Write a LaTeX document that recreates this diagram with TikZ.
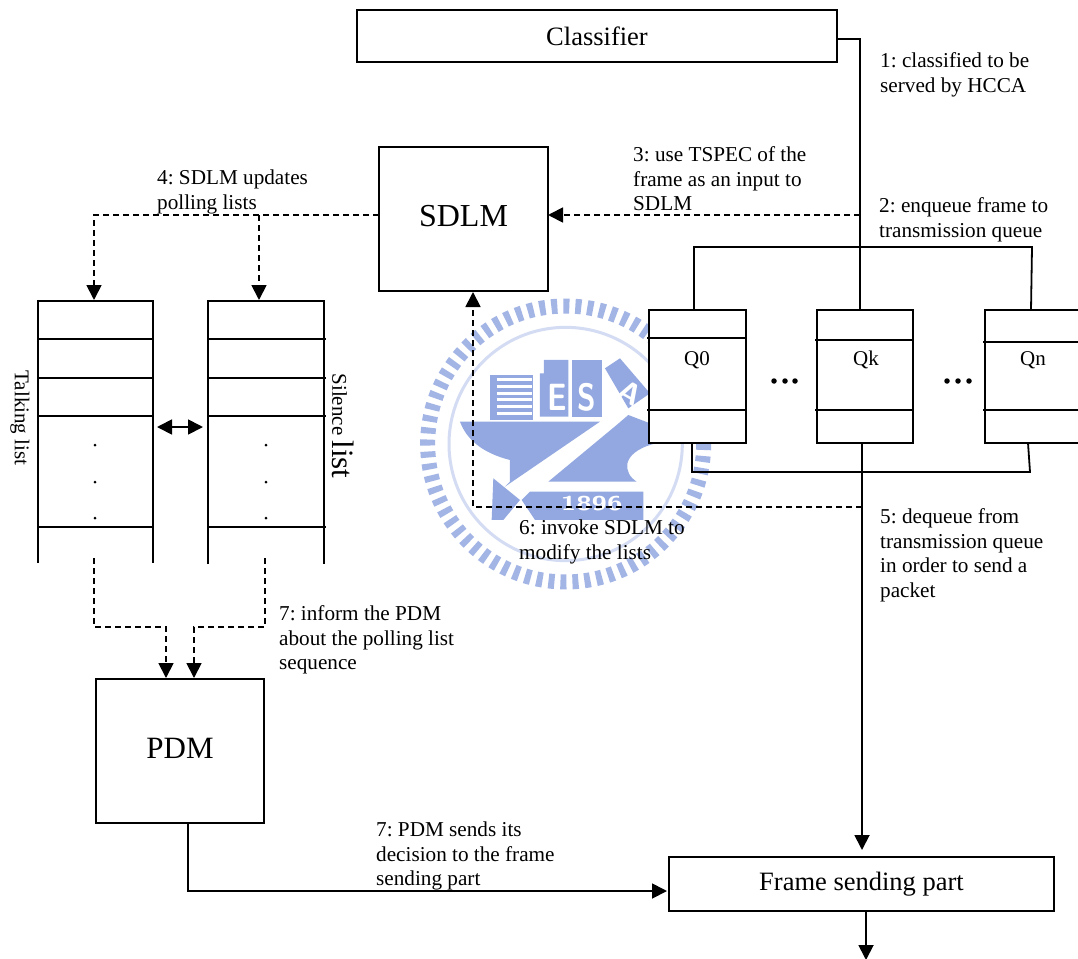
\documentclass[tikz,border=0pt]{standalone}
\usepackage{fontspec}
\setmainfont{Liberation Serif}
\usetikzlibrary{arrows.meta}
\frenchspacing
\definecolor{wm}{HTML}{93A8E0}
\tikzset{
  line/.style={line width=1.8pt,black},
  boxn/.style={draw=black,line width=1.8pt,fill=white,inner sep=0pt,outer sep=0pt},
  flow/.style={line,-{Triangle[length=15pt,width=15pt]}},
  dflow/.style={flow,dash pattern=on 6pt off 4pt},
  lab/.style={anchor=north west,align=left,inner sep=0pt,font=\fontsize{21.2}{24.5}\selectfont\frenchspacing},
  qlab/.style={font=\fontsize{21}{24}\selectfont,inner sep=0pt,anchor=base},
  wmtxt/.style={text=white,inner sep=0pt,font=\fontsize{38}{38}\selectfont\sffamily\bfseries},
  dotn/.style={circle,fill=black,inner sep=0pt,minimum size=#1},
  dotn/.default=5.5pt
}
\begin{document}
\begin{tikzpicture}[x=1pt,y=-1pt]
\useasboundingbox (0,0) rectangle (1078,958);
\fill[white] (0,0) rectangle (1078,958);
% watermark (crop coordinates: origin 420,290, scale 1/3)
\begin{scope}[shift={(420,290)},x=0.3333pt,y=-0.3333pt]
  \draw[wm!85,line width=15pt,dash pattern=on 6pt off 6pt] (437,462) circle [radius=414];
  \draw[wm!40,line width=3pt] (437,462) circle [radius=350];
  \fill[wm] (120,395) -- (540,395) -- (255,590) -- (270,575) -- (270,510) .. controls (190,490) and (140,450) .. (120,395) -- cycle;
  \fill[wm] (590,405) -- (385,575) -- (650,575) .. controls (610,550) and (600,490) .. (700,462) -- (690,400) -- (625,375) -- cycle;
  \fill[wm] (220,565) -- (215,690) -- (250,690) -- (300,630) -- cycle;
  \fill[wm] (330,605) -- (670,605) -- (670,690) -- (345,690) -- (305,630) -- cycle;
  \fill[wm] (210,255) rectangle (340,390);
  \foreach \yy in {270,290,310,330,350,370} \draw[white,line width=3pt] (230,\yy) -- (335,\yy);
  \fill[wm] (372,210) -- (445,210) -- (445,380) -- (360,380) -- (360,250) -- (372,250) -- cycle;
  \fill[wm] (455,210) rectangle (545,380);
  \fill[wm] (600,205) -- (690,310) -- (625,355) -- (555,235) -- cycle;
  \node[wmtxt,xscale=0.8] at (412,322) {E};
  \node[wmtxt,xscale=0.8] at (500,322) {S};
  \node[wmtxt,rotate=-30,font=\fontsize{30}{30}\selectfont\sffamily\bfseries] at (630,310) {A};
  \node[wmtxt,xscale=1.4,font=\fontsize{20}{20}\selectfont\sffamily\bfseries] at (515,640) {1896};
\end{scope}

% main boxes
\node[boxn,minimum width=480pt,minimum height=52pt,font=\fontsize{26.5}{30}\selectfont] (cls) at (597,36) {\raisebox{-1pt}{Classifier}};
\node[boxn,minimum width=169pt,minimum height=144pt,font=\fontsize{32}{36}\selectfont] (sdlm) at (463.5,219) {\raisebox{5.5pt}{SDLM}};
\node[boxn,minimum width=168pt,minimum height=144pt,font=\fontsize{31}{36}\selectfont] (pdm) at (180,751) {\raisebox{5pt}{PDM}};
\node[boxn,minimum width=385pt,minimum height=54pt,font=\fontsize{26.5}{30}\selectfont] (fsp) at (861.5,884) {\raisebox{-3pt}{Frame sending part}};

% queues
\node[boxn,minimum width=97pt,minimum height=133pt] (q0) at (697.5,376.5) {};
\node[boxn,minimum width=96pt,minimum height=133pt] (qk) at (865,376.5) {};
\draw[line] (1080,310) coordinate (qnTR) -- (985,310) coordinate (qnTL) -- (985,443) coordinate (qnBL) -- (1080,443);
\draw[line] (647,338) -- (746,338) (647,410) -- (746,410);
\draw[line] (815,340) -- (913,340) (815,410) -- (913,410);
\draw[line] (983,342) -- (1080,342) (983,410) -- (1080,410);
\node[qlab] (q0l) at (697,365) {Q0};
\node[qlab] (qkl) at (866,365) {Qk};
\node[qlab] (qnl) at (1033,365) {Qn};
\foreach \n/\xx in {a/774,b/785,c/795,d/947,e/958,f/969}
  \node[dotn] (e\n) at (\xx,381) {};

% buses
\coordinate (c1) at (860,39);
\coordinate (qktop) at (860,310);
\draw[line] (cls.east |- c1) -- (c1) -- (qktop);
\coordinate (t0) at (694,247);
\coordinate (tn) at (1032,247);
\draw[line] (694,310) -- (t0) -- (tn) -- (1031,310);
\coordinate (b0) at (692,472);
\coordinate (bn) at (1030,472);
\draw[line] (692,443) -- (b0) -- (bn) -- (1028,443);

% flow to frame sending part
\coordinate (qkbot) at (862,443);
\coordinate (fsptop) at (862,850);
\draw[flow] (qkbot) -- (fsptop);
\coordinate (fspout) at (866,911);
\coordinate (fspend) at (866,960);
\draw[flow] (fspout) -- (fspend);

% dashed connectors
\coordinate (j3) at (860,215);
\draw[dflow] (j3) -- (sdlm.east |- j3);
\coordinate (a1) at (94,215);
\coordinate (a1e) at (94,300);
\coordinate (a2) at (259,215);
\coordinate (a2e) at (259,300);
\draw[dflow] (sdlm.west |- a1) -- (a1) -- (a1e);
\draw[dflow] (a2) -- (a2e);
\coordinate (j6) at (862,507);
\coordinate (k6) at (473,507);
\coordinate (s6) at (473,292);
\draw[dflow] (j6) -- (k6) -- (s6);

% lists
\coordinate (tl) at (38,301);
\coordinate (tr) at (153,301);
\draw[line] (38,563) -- (tl) -- (tr) -- (153,563);
\foreach \yy in {339,378,416,527} \draw[line] (38,\yy) -- (153,\yy);
\coordinate (sl) at (208,301);
\coordinate (sr) at (324,301);
\draw[line] (208,564) -- (sl) -- (sr) -- (324,564);
\foreach \yy in {339,378,416,527} \draw[line] (208,\yy) -- (326,\yy);
\foreach \n/\yy in {a/445,b/482,c/518} {
  \node[dotn=3pt] (td\n) at (95,\yy) {};
  \node[dotn=3pt] (sd\n) at (266,\yy) {};
}
\coordinate (da) at (157,427);
\coordinate (db) at (203,427);
\draw[line,{Triangle[length=15pt,width=15pt]}-{Triangle[length=15pt,width=15pt]}] (da) -- (db);

% lists to PDM
\coordinate (p1) at (94,558);
\coordinate (p1a) at (94,627);
\coordinate (p1b) at (166,627);
\coordinate (p1c) at (166,678);
\draw[dflow] (p1) -- (p1a) -- (p1b) -- (p1c);
\coordinate (p2) at (265,558);
\coordinate (p2a) at (265,627);
\coordinate (p2b) at (194,627);
\coordinate (p2c) at (194,678);
\draw[dflow] (p2) -- (p2a) -- (p2b) -- (p2c);

% PDM to frame sending part
\coordinate (po) at (188,823);
\coordinate (pk) at (188,891);
\coordinate (pe) at (667,891);
\draw[flow] (po) -- (pk) -- (pe);

% labels
\node[lab] (l1) at (880,52.7) {1: classified to be\\served by HCCA};
\node[lab] (l3) at (633,146.7) {3: use TSPEC of the\\frame as an input to\\SDLM};
\node[lab] (l2) at (879,197.7) {2: enqueue frame to\\transmission queue};
\node[lab] (l4) at (157,169.7) {4: SDLM updates\\polling lists};
\node[lab] (l5) at (880,508.7) {5: dequeue from\\transmission queue\\in order to send a\\packet};
\node[lab] (l6) at (519,519.7) {6: invoke SDLM to\\modify the lists};
\node[lab] (l7) at (279,605.7) {7: inform the PDM\\about the polling list\\sequence};
\node[lab] (l8) at (376,821.7) {7: PDM sends its\\decision to the frame\\sending part};
\node[rotate=-90,inner sep=0pt,font=\fontsize{21}{24}\selectfont] (tll) at (20,418) {Talking list};
\node[rotate=-90,inner sep=0pt,font=\fontsize{21}{24}\selectfont] (sll) at (343,426) {Silence {\fontsize{31}{34}\selectfont list}};
\end{tikzpicture}
\end{document}
